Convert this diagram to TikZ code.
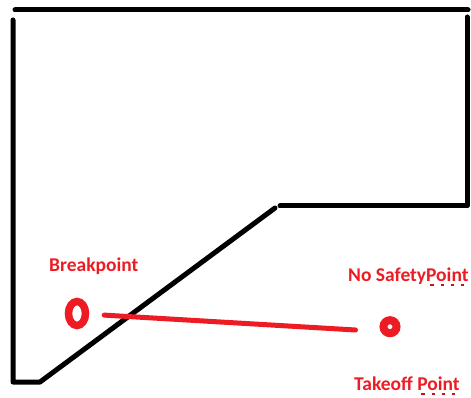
\documentclass[tikz,border=0pt]{standalone}
\usepackage{fontspec}
\setmainfont{Carlito}
\usepackage{tikz}
\usetikzlibrary{shapes.geometric}

\definecolor{markred}{RGB}{237,28,36}
\definecolor{spellred}{RGB}{190,20,30}

% dotted spell-check line under a word
\newcommand{\spellmark}[1]{\setbox0\hbox{#1}\rlap{\hbox to\wd0{\color{spellred}\xleaders\hbox to 8.6pt{\hss\rule[-5pt]{3.5pt}{2pt}\hss}\hfil}}\box0}

\tikzset{
  wall/.style={line width=5pt, line cap=round, line join=round},
  redline/.style={draw=markred, line width=5pt, line cap=round},
  ringbig/.style={draw=markred, line width=7.5pt, ellipse, inner sep=0pt, minimum width=17pt, minimum height=24pt},
  ringsmall/.style={draw=markred, line width=8pt, circle, inner sep=0pt, minimum size=13pt},
  tag/.style={text=markred, font=\fontsize{19.5}{23}\selectfont\bfseries, inner sep=0pt, anchor=base west}
}

\begin{document}
\begin{tikzpicture}[x=1pt,y=-1pt]
\useasboundingbox (0,0) rectangle (471,398);
\draw[wall] (15,10) -- (468,10) ; % top
\draw[wall] (13,20) -- (13,382) -- (40,382) -- (275,208) ; % left side and slope
\draw[wall] (280,206) -- (467,206) -- (467,17) ; % step

\node[ringbig] (BP) at (77,313.5) {}; % breakpoint
\node[ringsmall] (TO) at (390,326.7) {}; % takeoff
\coordinate (LE) at (355.5,330);
\draw[redline, shorten <=15pt] (BP) -- (LE) ;

\node[tag] (BPlab) at (49,271) {Breakpoint};
\node[tag] (NSlab) at (348,281) {No Safety\spellmark{Point}};
\node[tag] (TOlab) at (354,390) {Takeoff \spellmark{Point}};
\end{tikzpicture}
\end{document}
